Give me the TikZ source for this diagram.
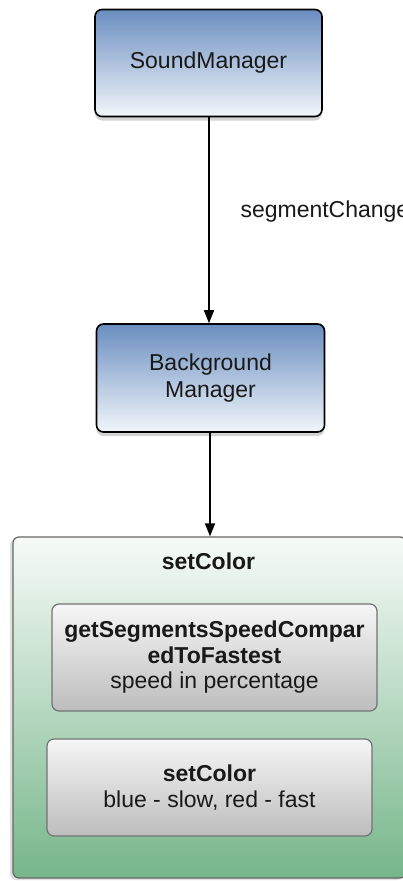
\documentclass[tikz,border=0pt]{standalone}
\usepackage{fontspec}
\setmainfont{Liberation Sans}
\usetikzlibrary{arrows.meta,shadows}
\definecolor{bluetop}{HTML}{6A8EC0}
\definecolor{bluebot}{HTML}{F2F6FB}
\definecolor{greentop}{HTML}{F7FBF8}
\definecolor{greenbot}{HTML}{76B68A}
\definecolor{greytop}{HTML}{F6F6F6}
\definecolor{greybot}{HTML}{BDBDBD}
\tikzset{
  manager/.style={rectangle, rounded corners=7pt, draw=black, line width=1.6pt,
    top color=bluetop, bottom color=bluebot, align=center,
    drop shadow={shadow xshift=0pt, shadow yshift=-4pt, opacity=0.35},
    font=\fontsize{23}{27}\selectfont, text=black!90},
  group/.style={rectangle, rounded corners=6pt, draw=black!60, line width=1.2pt,
    top color=greentop, bottom color=greenbot,
    drop shadow={shadow xshift=-3pt, shadow yshift=-2pt, opacity=0.25}},
  method/.style={rectangle, rounded corners=7pt, draw=black!55, line width=1.2pt,
    top color=greytop, bottom color=greybot, align=center,
    font=\fontsize{23}{25.5}\selectfont, text=black!90},
  flow/.style={-{Triangle[length=13pt,width=10pt]}, line width=1.4pt, black},
  lbl/.style={font=\fontsize{23}{27}\selectfont, text=black!90},
}
\begin{document}
\begin{tikzpicture}[x=1pt,y=-1pt]
  \useasboundingbox (0,0) rectangle (403,881);

  \node[manager, minimum width=227pt, minimum height=107pt] (sound) at (208.5,63) {SoundManager};
  \node[manager, minimum width=228pt, minimum height=108pt] (bg) at (210.5,378) {Background\\Manager};

  \node[group, minimum width=393pt, minimum height=341pt] (outer) at (209.5,707.5) {};
  \node[lbl, font=\fontsize{23}{27}\selectfont\bfseries] (title) at (208.5,561) {setColor};

  \node[method, minimum width=325pt, minimum height=107pt] (speed) at (214.5,657.5)
    {\textbf{getSegmentsSpeedCompar}\\\textbf{edToFastest}\\speed in percentage};
  \node[method, minimum width=325pt, minimum height=97pt] (color) at (209.5,787.5)
    {\textbf{setColor}\\blue - slow, red - fast};

  \draw[flow] (sound.south -| 209,0) -- (bg.north -| 209,0);
  \draw[flow] (bg.south -| 210,0) -- (outer.north -| 210,0);

  \node[lbl, anchor=west] (change) at (237,212) {segmentChange};
\end{tikzpicture}
\end{document}
